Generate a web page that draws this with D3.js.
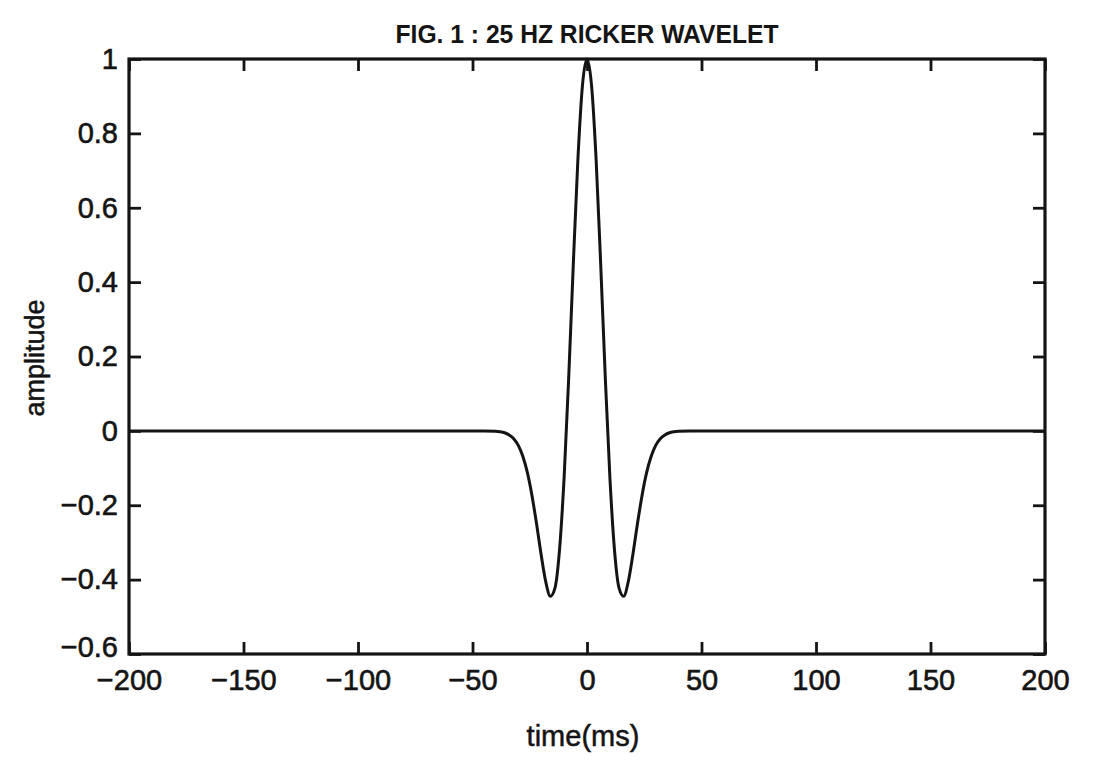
<!DOCTYPE html>
<html>
<head>
<meta charset="utf-8">
<script src="https://cdn.jsdelivr.net/npm/d3@7/dist/d3.min.js"></script>
<style>
  html, body { margin: 0; padding: 0; background: #ffffff; }
  svg { display: block; }
</style>
</head>
<body>
<svg id="chart" width="1100" height="760"></svg>
<script>
// ---- data ----
const titleText = "FIG. 1 : 25 HZ RICKER WAVELET";
const xLabel = "time(ms)";
const yLabel = "amplitude";
const xTicks = [-200, -150, -100, -50, 0, 50, 100, 150, 200];
const yTicks = [-0.6, -0.4, -0.2, 0, 0.2, 0.4, 0.6, 0.8, 1];
const timeMs = [-200, -60, -45, -40, -38, -36, -34, -32, -30, -28, -26, -24, -22, -20, -18, -16, -14, -12, -10, -8, -6, -4, -2,
                0, 2, 4, 6, 8, 10, 12, 14, 16, 18, 20, 22, 24, 26, 28, 30, 32, 34, 36, 38, 40, 45, 60, 200];
const amplitude = [0, 0, -0.0001, -0.001, -0.0023, -0.005, -0.011, -0.021, -0.039, -0.069, -0.113, -0.175, -0.251, -0.334, -0.406, -0.445, -0.423, -0.320, -0.126, 0.142, 0.445, 0.727, 0.928,
                   1.0, 0.928, 0.727, 0.445, 0.142, -0.126, -0.320, -0.423, -0.445, -0.406, -0.334, -0.251, -0.175, -0.113, -0.069, -0.039, -0.021, -0.011, -0.005, -0.0023, -0.001, -0.0001, 0, 0];

// ---- layout ----
const L = 129, R = 1045, T = 59, B = 654;
const ink = "#141414";
const svg = d3.select("#chart");

const x = d3.scaleLinear().domain([-200, 200]).range([L, R]);
const y = d3.scaleLinear().domain([-0.6, 1]).range([B, T]);

const tickLen = 12;
const font = "'Liberation Sans', Arial, sans-serif";

// axes (ticks inward on all four sides)
const gBottom = svg.append("g").attr("transform", `translate(0,${B})`)
  .call(d3.axisBottom(x).tickValues(xTicks).tickSizeInner(-tickLen).tickSizeOuter(0).tickPadding(15).tickFormat(d => d3.format("d")(d).replace("-", "\u2212")));
const gTop = svg.append("g").attr("transform", `translate(0,${T})`)
  .call(d3.axisTop(x).tickValues(xTicks).tickSizeInner(-tickLen).tickSizeOuter(0).tickFormat(""));
const gLeft = svg.append("g").attr("transform", `translate(${L},0)`)
  .call(d3.axisLeft(y).tickValues(yTicks).tickSizeInner(-tickLen).tickSizeOuter(0).tickPadding(11).tickFormat(d => (d === 0 || d === 1 ? String(d) : d3.format(".1f")(d)).replace("-", "\u2212")));
const gRight = svg.append("g").attr("transform", `translate(${R},0)`)
  .call(d3.axisRight(y).tickValues(yTicks).tickSizeInner(-tickLen).tickSizeOuter(0).tickFormat(""));

[gBottom, gTop, gLeft, gRight].forEach(g => {
  g.select(".domain").remove();
  g.selectAll(".tick line").attr("stroke", ink).attr("stroke-width", 2.8);
  g.selectAll(".tick text").attr("fill", ink).attr("stroke", ink).attr("stroke-width", 0.6)
    .style("font-family", font).style("font-size", "29px");
});
// lowest y label sits slightly above its tick, clear of the "-200" below it
gLeft.selectAll(".tick").filter(d => d === -0.6).select("text").attr("y", -7);

// frame
svg.append("rect").attr("x", L).attr("y", T).attr("width", R - L).attr("height", B - T)
  .attr("fill", "none").attr("stroke", ink).attr("stroke-width", 3.2);

// wavelet trace
const pts = timeMs.map((t, i) => [t, amplitude[i]]);
svg.append("path").datum(pts)
  .attr("fill", "none").attr("stroke", ink).attr("stroke-width", 3).attr("stroke-linejoin", "round")
  .attr("d", d3.line().x(d => x(d[0])).y(d => y(d[1])).curve(d3.curveMonotoneX));

// title
svg.append("text").attr("x", 587).attr("y", 43).attr("text-anchor", "middle")
  .attr("textLength", 383).attr("lengthAdjust", "spacingAndGlyphs")
  .style("font-family", font).style("font-size", "25px").style("font-weight", "bold")
  .attr("fill", ink).text(titleText);

// x label
svg.append("text").attr("x", 583).attr("y", 746).attr("text-anchor", "middle")
  .attr("stroke", ink).attr("stroke-width", 0.5)
  .style("font-family", font).style("font-size", "29px").attr("fill", ink).text(xLabel);

// y label
svg.append("text").attr("transform", `translate(44,358) rotate(-90)`).attr("text-anchor", "middle")
  .attr("stroke", ink).attr("stroke-width", 0.5)
  .style("font-family", font).style("font-size", "27px").attr("fill", ink).text(yLabel);
</script>
</body>
</html>
